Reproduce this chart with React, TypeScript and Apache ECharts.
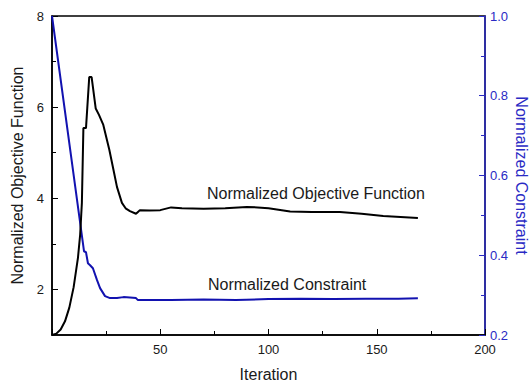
import React, { useEffect, useRef } from "react";
import * as echarts from "echarts";

const objX = [0, 2, 4, 6, 8, 10, 12, 13, 13.8, 14.5, 15.7, 17.2, 18.3, 20.2, 21.7, 23.7, 26.5, 28.5, 30, 32.3, 34, 36, 38.8, 39.7, 40.6, 45, 50, 55, 60, 70, 80, 90, 95, 100, 110, 120, 133, 143, 153, 169];
const objY = [1.0, 1.03, 1.12, 1.3, 1.6, 2.05, 2.7, 3.2, 3.9, 5.54, 5.54, 6.66, 6.66, 5.97, 5.83, 5.61, 5.06, 4.6, 4.25, 3.9, 3.78, 3.72, 3.66, 3.7, 3.74, 3.73, 3.74, 3.8, 3.78, 3.77, 3.78, 3.81, 3.8, 3.78, 3.71, 3.7, 3.7, 3.66, 3.61, 3.57];

const conX = [0, 14.8, 15.7, 16.6, 17.6, 18.9, 20.8, 22.2, 24.5, 26.8, 30, 33, 36, 38.8, 39.7, 45, 55, 70, 85, 100, 115, 130, 145, 160, 169];
const conY = [1.0, 0.41, 0.4075, 0.38, 0.375, 0.3675, 0.3375, 0.3175, 0.2975, 0.2925, 0.293, 0.295, 0.294, 0.2925, 0.2875, 0.2875, 0.2875, 0.289, 0.288, 0.29, 0.291, 0.29, 0.291, 0.291, 0.292];

const xTicks = [50, 100, 150, 200];
const leftLabels = [2, 4, 6, 8];
const leftMinor = [3, 5, 7];

const FONT = "'Liberation Sans', Arial, sans-serif";
const BLUE_AXIS = "#2a2ac4";
const BLUE_LINE = "#1212b0";
const TXT = "#1a1a1a";

export default function App() {
  const ref = useRef<HTMLDivElement>(null);
  useEffect(() => {
    if (!ref.current) return;
    const chart = echarts.init(ref.current, null, { renderer: "svg" });
    const grid = { left: 52, right: 46, top: 16, bottom: 47 };
    chart.setOption({
      animation: false,
      backgroundColor: "#fff",
      textStyle: { fontFamily: FONT },
      grid: {
        ...grid,
        containLabel: false,
        outerBoundsMode: "none",
        show: true,
        borderColor: "#000",
        borderWidth: 1.5,
        backgroundColor: "transparent",
      },
      xAxis: {
        type: "value",
        min: 0,
        max: 200,
        interval: 50,
        name: "Iteration",
        nameLocation: "middle",
        nameGap: 31,
        nameMoveOverlap: false,
        nameTextStyle: { fontSize: 16, color: TXT, fontFamily: FONT },
        axisLine: { show: true, lineStyle: { color: "#000", width: 1.5 } },
        axisTick: { show: true, inside: true, length: 6, lineStyle: { color: "#000", width: 1 } },
        minorTick: { show: true, splitNumber: 2, length: 4, lineStyle: { color: "#000", width: 1 } },
        axisLabel: {
          color: TXT,
          fontSize: 13,
          fontFamily: FONT,
          margin: 8,
          formatter: (v: number) => (xTicks.includes(v) ? String(v) : ""),
        },
        splitLine: { show: false },
      },
      yAxis: [
        {
          type: "value",
          position: "left",
          min: 1,
          max: 8,
          interval: 1,
          name: "Normalized Objective Function",
          nameLocation: "middle",
          nameGap: 27,
          nameMoveOverlap: false,
          nameTextStyle: { fontSize: 16, color: TXT, fontFamily: FONT },
          axisLine: { show: true, lineStyle: { color: "#000", width: 1.5 } },
          axisTick: { show: true, inside: true, length: 6, customValues: leftLabels, lineStyle: { color: "#000", width: 1 } },
          axisLabel: { color: TXT, fontSize: 13, fontFamily: FONT, margin: 8, customValues: leftLabels },
          splitLine: { show: false },
        },
        {
          type: "value",
          position: "right",
          min: 0.2,
          max: 1.0,
          interval: 0.2,
          name: "Normalized Constraint",
          nameLocation: "middle",
          nameGap: 28,
          nameRotate: -90,
          nameMoveOverlap: false,
          nameTextStyle: { fontSize: 16, color: BLUE_AXIS, fontFamily: FONT },
          axisLine: { show: true, lineStyle: { color: BLUE_AXIS, width: 1.5 } },
          axisTick: { show: true, inside: true, length: 6, lineStyle: { color: BLUE_AXIS, width: 1 } },
          minorTick: { show: true, splitNumber: 2, length: 4, lineStyle: { color: BLUE_AXIS, width: 1 } },
          axisLabel: { color: BLUE_AXIS, fontSize: 13, fontFamily: FONT, margin: 5, formatter: (v: number) => v.toFixed(1) },
          splitLine: { show: false },
        },
        {
          type: "value",
          position: "left",
          min: 1,
          max: 8,
          interval: 1,
          axisLine: { show: false },
          axisTick: { show: true, inside: true, length: 4, customValues: leftMinor, lineStyle: { color: "#000", width: 1 } },
          axisLabel: { show: false },
          splitLine: { show: false },
        },
      ],
      series: [
        {
          type: "line",
          yAxisIndex: 0,
          data: objX.map((x, i) => [x, objY[i]]),
          showSymbol: false,
          lineStyle: { color: "#000", width: 2 },
          itemStyle: { color: "#000" },
          z: 3,
        },
        {
          type: "line",
          yAxisIndex: 1,
          data: conX.map((x, i) => [x, conY[i]]),
          showSymbol: false,
          lineStyle: { color: BLUE_LINE, width: 2 },
          itemStyle: { color: BLUE_LINE },
          z: 2,
        },
      ],
      graphic: [
        {
          type: "text",
          left: 207,
          top: 185,
          style: { text: "Normalized Objective Function", fontSize: 16, fontFamily: FONT, fill: TXT },
        },
        {
          type: "text",
          left: 208,
          top: 276,
          style: { text: "Normalized Constraint", fontSize: 16, fontFamily: FONT, fill: TXT },
        },
      ],
    });
    return () => chart.dispose();
  }, []);
  return <div ref={ref} style={{ position: "fixed", left: 0, top: 0, width: 531, height: 382 }} />;
}
